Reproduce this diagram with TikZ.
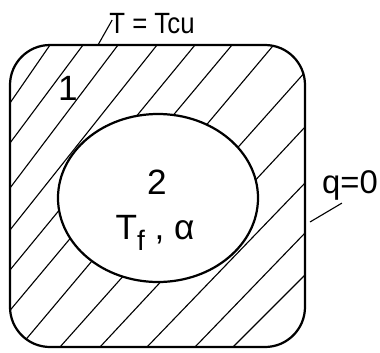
\documentclass[tikz,border=0pt]{standalone}
\usepackage{fontspec}
\setmainfont{Liberation Sans}
\newfontfamily\narrowlab{Liberation Sans}[FakeStretch=0.88]
\begin{document}
\begin{tikzpicture}[x=0.03cm,y=-0.03cm,
    rim/.style={line width=1.9pt},
    hatch/.style={line width=0.95pt,shorten <=-8pt,shorten >=-8pt},
    lead/.style={line width=0.95pt},
    big/.style={font=\fontsize{30}{34}\selectfont,inner sep=0pt},
    small/.style={font=\narrowlab\fontsize{25}{29}\selectfont,inner sep=0pt}]
    \useasboundingbox (0,0) rectangle (380,353);
    \begin{scope}
        \clip[rounded corners=1.2cm] (10,45) rectangle (305,347);
        \foreach \xa/\ya/\xb/\yb in {50/45/10/103, 83/45/10/143, 118/45/10/188,
            157/45/10/230, 195/45/10/270, 232/45/12/308, 272/47/28/337,
            298/80/60/347, 305/127/100/347, 305/183/147/347, 305/233/195/347,
            305/275/233/347} {
            \draw[hatch] (\xa,\ya) -- (\xb,\yb);
        }
    \end{scope}
    \filldraw[rim,fill=white] (158,198) ellipse [x radius=100,y radius=84];
    \draw[rim,rounded corners=1.2cm] (10,45) rectangle (305,347);
    % labels
    \node[small] (tcu) at (152,24) {T = Tcu};
    \node[big] (one) at (68,88) {1};
    \node[big] (two) at (157,182) {2};
    \node[big] (tf) at (155,233) {T\raisebox{-0.3em}{\fontsize{24}{26}\selectfont f} , α};
    \node[big,font=\fontsize{28}{32}\selectfont] (q) at (350,185) {q=0};
    \coordinate (cT) at (98,45);
    \coordinate (cQ) at (310,222);
    \draw[lead] (cT) -- ([shift={(3,-4)}]tcu.west);
    \draw[lead] (cQ) -- ([shift={(20,3)}]q.south west);
\end{tikzpicture}
\end{document}
